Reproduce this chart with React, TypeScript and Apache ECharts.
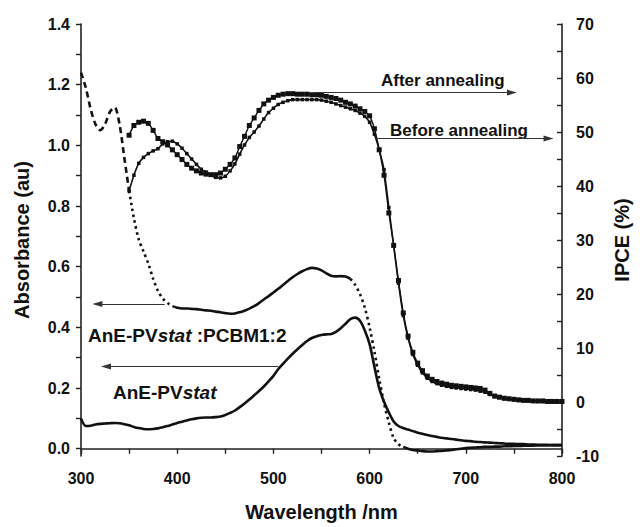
import React, { useEffect, useRef } from "react";
import * as echarts from "echarts";

// Absorbance wavelengths (nm)
const absWl = [300,305,310,315,320,325,330,335,340,345,350,355,360,365,370,375,380,385,390,395,400,405,410,415,420,425,430,435,440,445,450,455,460,465,470,475,480,485,490,495,500,505,510,515,520,525,530,535,540,545,550,555,560,565,570,575,580,585,590,595,600,605,610,615,620,625,630,635,640,645,650,655,660,665,670,675,680,685,690,695,700,705,710,715,720,725,730,735,740,745,750,755,760,765,770,775,780,785,790,795,800];

// AnE-PVstat:PCBM 1:2 blend absorbance (au)
const blendAbs = [1.24,1.19,1.12,1.07,1.05,1.07,1.11,1.125,1.07,0.96,0.85,0.76,0.69,0.65,0.61,0.56,0.52,0.495,0.48,0.47,0.465,0.462,0.462,0.461,0.46,0.458,0.456,0.455,0.452,0.45,0.447,0.445,0.446,0.45,0.455,0.462,0.47,0.48,0.492,0.503,0.515,0.527,0.54,0.553,0.565,0.576,0.585,0.592,0.596,0.594,0.588,0.578,0.57,0.568,0.569,0.568,0.56,0.54,0.51,0.465,0.40,0.32,0.23,0.15,0.087,0.035,0.015,0.006,0.0,-0.004,-0.006,-0.008,-0.009,-0.009,-0.008,-0.007,-0.006,-0.004,-0.002,0.0,0.002,0.003,0.004,0.005,0.006,0.006,0.007,0.007,0.008,0.008,0.009,0.009,0.01,0.01,0.01,0.011,0.011,0.011,0.012,0.012,0.012];

// Pristine AnE-PVstat absorbance (au)
const pristineAbs = [0.10,0.075,0.076,0.08,0.082,0.083,0.084,0.085,0.084,0.081,0.077,0.072,0.068,0.065,0.064,0.065,0.067,0.071,0.075,0.08,0.085,0.089,0.093,0.097,0.1,0.102,0.103,0.103,0.104,0.106,0.111,0.118,0.126,0.137,0.149,0.162,0.176,0.19,0.205,0.222,0.24,0.262,0.28,0.297,0.313,0.328,0.342,0.355,0.365,0.371,0.375,0.377,0.378,0.385,0.397,0.412,0.427,0.432,0.422,0.39,0.345,0.27,0.2,0.155,0.12,0.09,0.075,0.068,0.063,0.058,0.053,0.049,0.045,0.042,0.039,0.036,0.034,0.032,0.03,0.028,0.026,0.025,0.023,0.022,0.021,0.02,0.019,0.018,0.017,0.016,0.016,0.015,0.015,0.014,0.014,0.013,0.013,0.013,0.012,0.012,0.012];

// IPCE wavelengths (nm)
const ipceWl = [350,355,360,365,370,375,380,385,390,395,400,405,410,415,420,425,430,435,440,445,450,455,460,465,470,475,480,485,490,495,500,505,510,515,520,525,530,535,540,545,550,555,560,565,570,575,580,585,590,595,600,605,610,615,620,625,630,635,640,645,650,655,660,665,670,675,680,685,690,695,700,705,710,715,720,725,730,735,740,745,750,755,760,765,770,775,780,785,790,795,800];

// IPCE after annealing (%)
const ipceAfter = [49.4,51.2,51.8,52.0,51.6,50.3,48.8,48.2,47.6,46.7,45.8,44.9,44.0,43.3,42.8,42.4,42.2,42.1,42.1,42.4,43.1,44.0,45.2,47.3,49.2,51.2,52.6,54.0,55.2,55.9,56.4,56.8,57.0,57.1,57.1,57.0,57.0,57.0,56.9,56.9,56.8,56.6,56.4,56.2,55.9,55.5,55.2,54.8,54.3,53.8,53.0,50.6,46.7,42.0,35.0,29.0,22.5,16.5,12.2,9.2,7.2,5.8,4.8,4.2,3.8,3.5,3.3,3.1,3.0,2.9,2.8,2.7,2.6,2.5,2.2,1.6,1.1,0.9,0.7,0.6,0.5,0.4,0.3,0.3,0.2,0.2,0.2,0.1,0.1,0.1,0.1];

// IPCE before annealing (%)
const ipceBefore = [39.1,42.0,44.2,45.3,46.0,46.5,46.9,47.8,48.2,48.3,47.8,47.0,46.0,45.0,44.0,43.1,42.6,42.0,41.6,41.5,41.8,42.8,44.1,45.9,47.6,49.0,50.0,51.1,52.4,53.6,54.4,55.1,55.5,55.8,56.0,56.0,56.0,56.0,56.0,56.0,55.9,55.7,55.5,55.2,54.9,54.6,54.3,54.0,53.5,52.9,51.8,49.6,46.7,43.0,36.0,29.0,22.0,16.0,11.8,8.8,6.8,5.4,4.4,3.8,3.4,3.1,2.9,2.7,2.6,2.5,2.4,2.3,2.2,2.0,1.8,1.4,1.0,0.8,0.6,0.5,0.4,0.3,0.3,0.2,0.2,0.1,0.1,0.1,0.0,0.0,0.0];

// Axis ticks
const xTicks = [300, 400, 500, 600, 700, 800];
const leftLabels = [0, 0.2, 0.4, 0.6, 0.8, 1.0, 1.2, 1.4];
const leftTicks = [0, 0.1, 0.2, 0.3, 0.4, 0.5, 0.6, 0.7, 0.8, 0.9, 1.0, 1.1, 1.2, 1.3, 1.4];

// Annotation arrows: [fromX, toX, y]
const afterArrow = [542, 748, 57.3];
const beforeArrow = [606, 786, 48.8];
const blendArrow = [387, 317, 0.477];
const pristineArrow = [505, 326, 0.271];

const pairs = (xs: number[], ys: number[]) => xs.map((x, i) => [x, ys[i]]);
const seg = (xs: number[], ys: number[], a: number, b: number) =>
  pairs(xs, ys).filter((p) => p[0] >= a && p[0] <= b);

const FONT = "'Liberation Sans', Arial, sans-serif";
const INK = "#111";

export default function App() {
  const ref = useRef<HTMLDivElement>(null);
  useEffect(() => {
    if (!ref.current) return;
    const chart = echarts.init(ref.current, undefined, { renderer: "svg" });
    const absLine = (data: number[][], type: any) => ({
      type: "line",
      xAxisIndex: 0,
      yAxisIndex: 0,
      data,
      smooth: 0.3,
      showSymbol: false,
      symbol: "none",
      lineStyle: { color: INK, width: 2.6, type },
      silent: true,
      z: 3,
    });
    const arrowMark = (lines: number[][]) => ({
      silent: true,
      symbol: ["none", "triangle"],
      symbolSize: [6, 10],
      label: { show: false },
      lineStyle: { color: "#333", width: 1.2, type: "solid" },
      data: lines.map((l) => [{ coord: [l[0], l[2]] }, { coord: [l[1], l[2]] }]),
    });
    const richText = {
      a: { fontFamily: FONT, fontSize: 19, fontWeight: "bold", fill: INK, color: INK },
      b: { fontFamily: FONT, fontSize: 19, fontWeight: "bold", fontStyle: "italic", fill: INK, color: INK },
    };
    const tickLabel = { fontFamily: FONT, fontSize: 16, fontWeight: "bold", color: INK };
    const axisName = { fontFamily: FONT, fontSize: 20, fontWeight: "bold", color: INK };
    chart.setOption({
      animation: false,
      backgroundColor: "#fff",
      grid: { left: 81, right: 63, top: 24, bottom: 59, containLabel: false },
      xAxis: {
        type: "value",
        min: 300,
        max: 800,
        interval: 100,
        name: "Wavelength /nm",
        nameLocation: "middle",
        nameGap: 46,
        nameTextStyle: axisName,
        axisLine: { show: true, lineStyle: { color: "#222", width: 1.6 } },
        axisTick: { show: true, length: 5, lineStyle: { color: "#222", width: 1.4 } },
        minorTick: { show: true, splitNumber: 2, length: 5, lineStyle: { color: "#222", width: 1.4 } },
        axisLabel: { ...tickLabel, margin: 14, customValues: xTicks },
        splitLine: { show: false },
      },
      yAxis: [
        {
          type: "value",
          min: -0.024,
          max: 1.4,
          position: "left",
          name: "Absorbance (au)",
          nameLocation: "middle",
          nameRotate: 90,
          nameGap: 49,
          nameTextStyle: axisName,
          axisLine: { show: true, lineStyle: { color: "#222", width: 1.6 } },
          axisTick: { show: true, length: 5, customValues: leftTicks, lineStyle: { color: "#222", width: 1.4 } },
          axisLabel: {
            ...tickLabel,
            margin: 11,
            customValues: leftLabels,
            formatter: (v: number) => v.toFixed(1),
          },
          splitLine: { show: false },
        },
        {
          type: "value",
          min: -10,
          max: 70,
          interval: 10,
          position: "right",
          name: "IPCE (%)",
          nameLocation: "middle",
          nameRotate: 90,
          nameGap: 50,
          nameTextStyle: axisName,
          axisLine: { show: true, lineStyle: { color: "#222", width: 1.6 } },
          axisTick: { show: true, inside: true, length: 5, lineStyle: { color: "#222", width: 1.4 } },
          minorTick: { show: true, splitNumber: 2, length: 5, lineStyle: { color: "#222", width: 1.4 } },
          axisLabel: { ...tickLabel, margin: 14 },
          splitLine: { show: false },
        },
      ],
      series: [
        absLine(seg(absWl, blendAbs, 300, 350), [6, 4]),
        absLine(seg(absWl, blendAbs, 350, 395), [2.5, 3.5]),
        absLine(seg(absWl, blendAbs, 395, 580), "solid"),
        absLine(seg(absWl, blendAbs, 580, 635), [2.5, 3.5]),
        absLine(seg(absWl, blendAbs, 635, 800), "solid"),
        {
          ...absLine(pairs(absWl, pristineAbs), "solid"),
          markLine: arrowMark([blendArrow, pristineArrow]),
        },
        {
          type: "line",
          name: "After annealing",
          xAxisIndex: 0,
          yAxisIndex: 1,
          data: pairs(ipceWl, ipceAfter),
          smooth: 0.2,
          symbol: "rect",
          symbolSize: 5,
          showSymbol: true,
          itemStyle: { color: INK },
          lineStyle: { color: INK, width: 1.4 },
          silent: true,
          z: 4,
          markLine: arrowMark([afterArrow, beforeArrow]),
        },
        {
          type: "line",
          name: "Before annealing",
          xAxisIndex: 0,
          yAxisIndex: 1,
          data: pairs(ipceWl, ipceBefore),
          smooth: 0.2,
          symbol: "rect",
          symbolSize: 3.5,
          showSymbol: true,
          itemStyle: { color: INK },
          lineStyle: { color: INK, width: 1.6 },
          silent: true,
          z: 4,
        },
      ],
      graphic: [
        {
          type: "text",
          x: 381,
          y: 80,
          style: { text: "After annealing", fill: INK, font: `bold 17px ${FONT}`, verticalAlign: "middle", align: "left" },
        },
        {
          type: "text",
          x: 390,
          y: 130,
          style: { text: "Before annealing", fill: INK, font: `bold 17px ${FONT}`, verticalAlign: "middle", align: "left" },
        },
        {
          type: "text",
          x: 88,
          y: 335,
          style: { text: "{a|AnE-PV}{b|stat}{a| :PCBM1:2}", verticalAlign: "middle", align: "left", rich: richText },
        },
        {
          type: "text",
          x: 113,
          y: 392,
          style: { text: "{a|AnE-PV}{b|stat}", verticalAlign: "middle", align: "left", rich: richText },
        },
      ],
    });
    return () => chart.dispose();
  }, []);
  return (
    <div
      ref={ref}
      style={{ position: "fixed", left: 0, top: 0, width: 640, height: 527, background: "#fff" }}
    />
  );
}
